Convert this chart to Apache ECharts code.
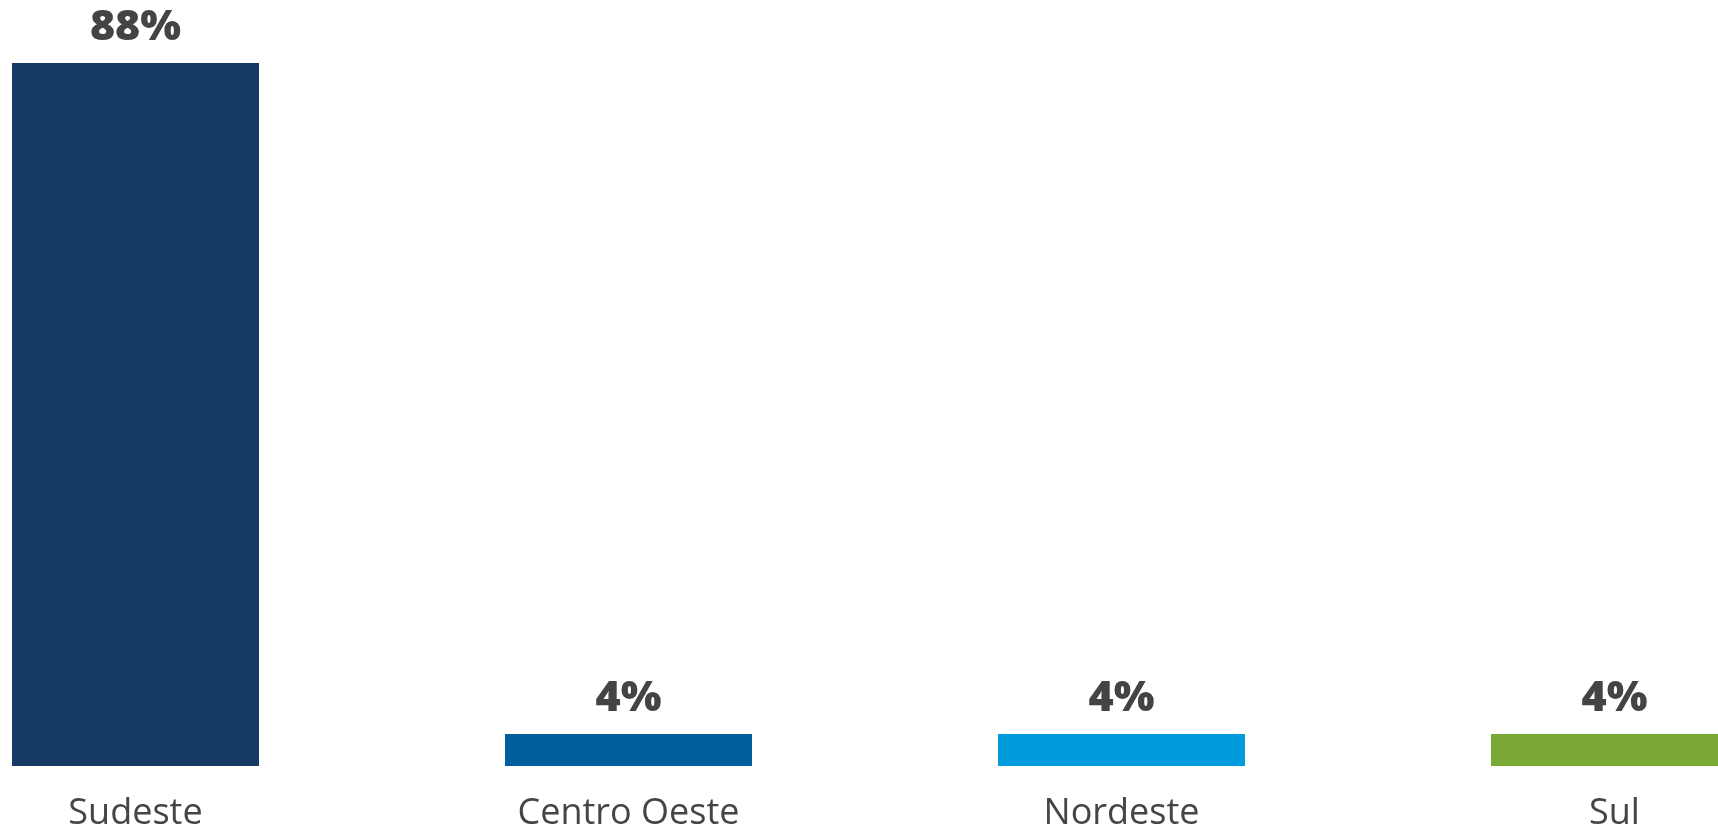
<!DOCTYPE html>
<html>
<head>
<meta charset="utf-8">
<script src="https://cdn.jsdelivr.net/npm/echarts@6/dist/echarts.min.js"></script>
<style>
  html, body { margin: 0; padding: 0; background: #fff; overflow: hidden; }
  /* the chart is wider than the window and cropped on both sides */
  #chart { position: absolute; left: -111px; top: 0; width: 1972px; height: 832px; }
</style>
</head>
<body>
<div id="chart"></div>
<script>
const regions = ['Sudeste', 'Centro Oeste', 'Nordeste', 'Sul']
const shares = [88, 4, 4, 4]
const barColors = ['#153a65', '#005e9f', '#009bdc', '#79a835']

const chart = echarts.init(document.getElementById('chart'))

chart.setOption({
  animation: false,
  grid: {
    left: 0,
    right: 0,
    top: 63,
    bottom: 65
  },
  xAxis: {
    type: 'category',
    data: regions,
    axisLine: { show: false },
    axisTick: { show: false },
    axisLabel: {
      margin: 30,
      fontSize: 36,
      fontFamily: 'Open Sans',
      color: '#454545'
    }
  },
  yAxis: {
    type: 'value',
    min: 0,
    max: 88,
    show: false,
    splitLine: { show: false }
  },
  series: [{
    type: 'bar',
    barWidth: 247,
    data: shares.map((v, i) => ({
      value: v,
      itemStyle: { color: barColors[i] }
    })),
    label: {
      show: true,
      position: 'top',
      distance: 14,
      formatter: '{c}%',
      fontSize: 43,
      fontWeight: 800,
      fontFamily: 'Open Sans',
      color: '#444'
    }
  }]
})
</script>
</body>
</html>
